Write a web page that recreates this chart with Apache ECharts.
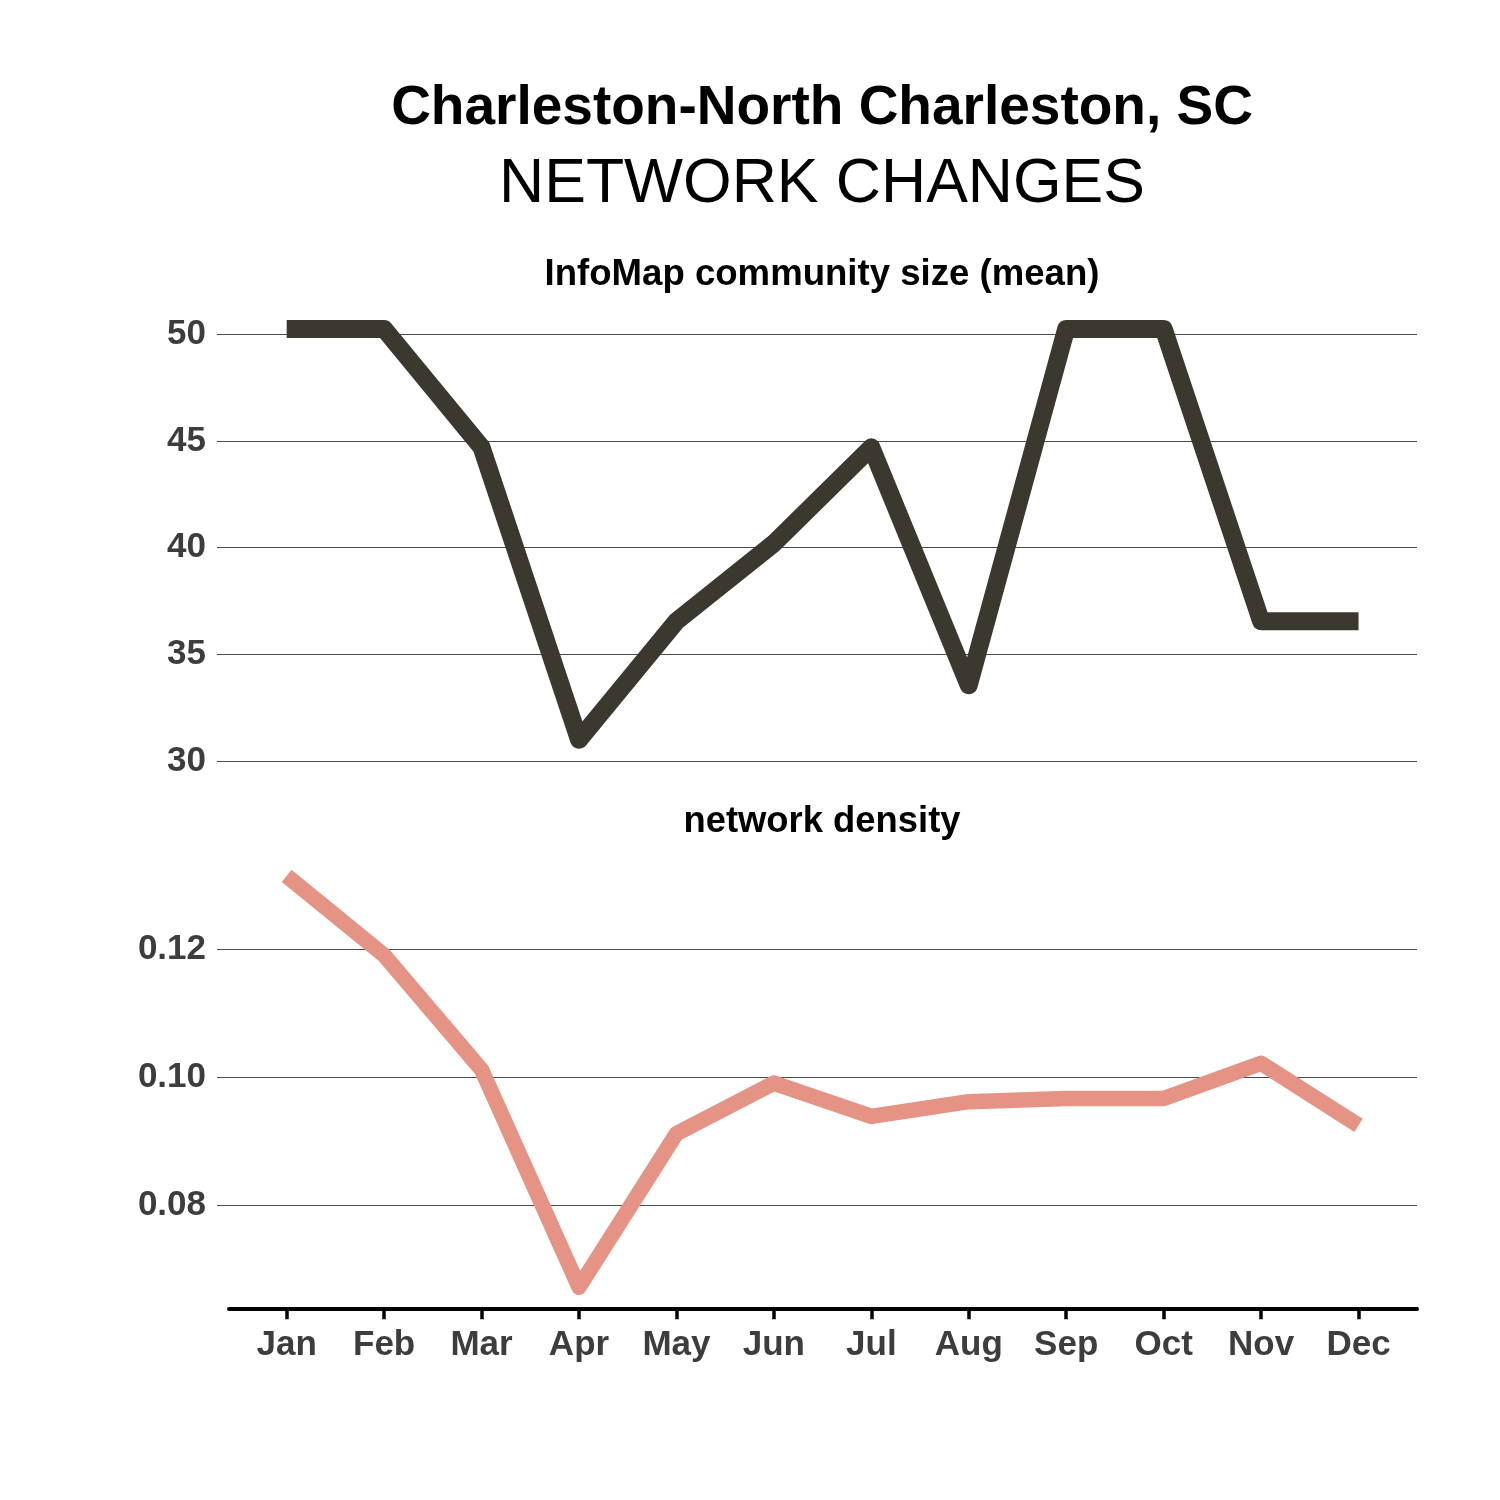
<!DOCTYPE html>
<html>
<head>
<meta charset="utf-8">
<script src="https://cdn.jsdelivr.net/npm/echarts@6/dist/echarts.min.js"></script>
<style>
  html, body { margin: 0; padding: 0; background: #ffffff; }
  #chart { width: 1500px; height: 1500px; }
</style>
</head>
<body>
<div id="chart"></div>
<script>
const months = ['Jan','Feb','Mar','Apr','May','Jun','Jul','Aug','Sep','Oct','Nov','Dec'];
const communitySize = [50.25, 50.25, 44.7, 31.0, 36.55, 40.2, 44.7, 33.55, 50.25, 50.25, 36.55, 36.55];
const networkDensity = [0.1315, 0.1191, 0.1012, 0.0672, 0.0912, 0.0991, 0.0939, 0.0962, 0.0967, 0.0967, 0.1022, 0.0925];
const topTicks = [30, 35, 40, 45, 50];
const bottomTicks = [0.08, 0.10, 0.12];
const monthTicks = months.map((m, i) => i);

const FONT = 'Liberation Sans';
const labelColor = '#3d3d3d';

const chart = echarts.init(document.getElementById('chart'), null, { renderer: 'canvas' });

function xAxisDef(gridIndex, visible) {
  return {
    type: 'value',
    gridIndex: gridIndex,
    min: -0.715,
    max: 11.6,
    show: visible,
    splitLine: { show: false },
    axisLine: { show: false },
    axisTick: { show: visible, length: 11, lineStyle: { color: '#000000', width: 3.5 }, customValues: monthTicks },
    axisLabel: {
      show: visible,
      customValues: monthTicks,
      formatter: v => months[Math.round(v)],
      margin: 20,
      fontFamily: FONT, fontWeight: 'bold', fontSize: 35, color: labelColor
    }
  };
}

function yAxisDef(gridIndex, min, max, ticks, fmt) {
  return {
    type: 'value',
    gridIndex: gridIndex,
    min: min,
    max: max,
    axisLine: { show: false },
    axisTick: { show: false, customValues: ticks },
    splitLine: { show: true, lineStyle: { color: '#4a4a4a', width: 1 } },
    axisLabel: {
      customValues: ticks,
      formatter: fmt,
      margin: 11,
      fontFamily: FONT, fontWeight: 'bold', fontSize: 35, color: labelColor
    }
  };
}

const option = {
  animation: false,
  backgroundColor: '#ffffff',
  title: [
    { text: 'Charleston-North Charleston, SC', left: 822, top: 81, textAlign: 'center', padding: 0,
      textStyle: { fontFamily: FONT, fontWeight: 'bold', fontSize: 55, color: '#000000' } },
    { text: 'NETWORK CHANGES', left: 822, top: 153, textAlign: 'center', padding: 0,
      textStyle: { fontFamily: FONT, fontWeight: 'normal', fontSize: 62.5, color: '#000000' } },
    { text: 'InfoMap community size (mean)', left: 822, top: 256, textAlign: 'center', padding: 0,
      textStyle: { fontFamily: FONT, fontWeight: 'bold', fontSize: 36.6, color: '#000000' } },
    { text: 'network density', left: 822, top: 804, textAlign: 'center', padding: 0,
      textStyle: { fontFamily: FONT, fontWeight: 'bold', fontSize: 36.4, color: '#000000' } }
  ],
  grid: [
    { left: 217, right: 83, top: 306.5, bottom: 739, containLabel: false },
    { left: 217, right: 83, top: 855.4, bottom: 191.7, containLabel: false },
    { left: 229, right: 83, top: 1200, bottom: 191.7, containLabel: false }
  ],
  xAxis: [
    xAxisDef(0, false),
    xAxisDef(1, true),
    {
      type: 'value', gridIndex: 2, min: 0, max: 1,
      axisLine: { show: true, lineStyle: { color: '#000000', width: 4 } },
      axisTick: { show: false }, axisLabel: { show: false }, splitLine: { show: false }
    }
  ],
  yAxis: [
    yAxisDef(0, 30, 51.3, topTicks, v => String(Math.round(v))),
    yAxisDef(1, 0.0639, 0.1347, bottomTicks, v => v.toFixed(2)),
    { type: 'value', gridIndex: 2, show: false, splitLine: { show: false } }
  ],
  series: [
    {
      type: 'line',
      xAxisIndex: 0, yAxisIndex: 0,
      data: months.map((m, i) => [i, communitySize[i]]),
      showSymbol: false,
      symbol: 'none',
      lineStyle: { color: '#3b3830', width: 18, cap: 'butt', join: 'round' }
    },
    {
      type: 'line',
      xAxisIndex: 1, yAxisIndex: 1,
      data: months.map((m, i) => [i, networkDensity[i]]),
      showSymbol: false,
      symbol: 'none',
      lineStyle: { color: '#e49385', width: 15.5, cap: 'butt', join: 'round' }
    }
  ]
};

chart.setOption(option);
</script>
</body>
</html>
